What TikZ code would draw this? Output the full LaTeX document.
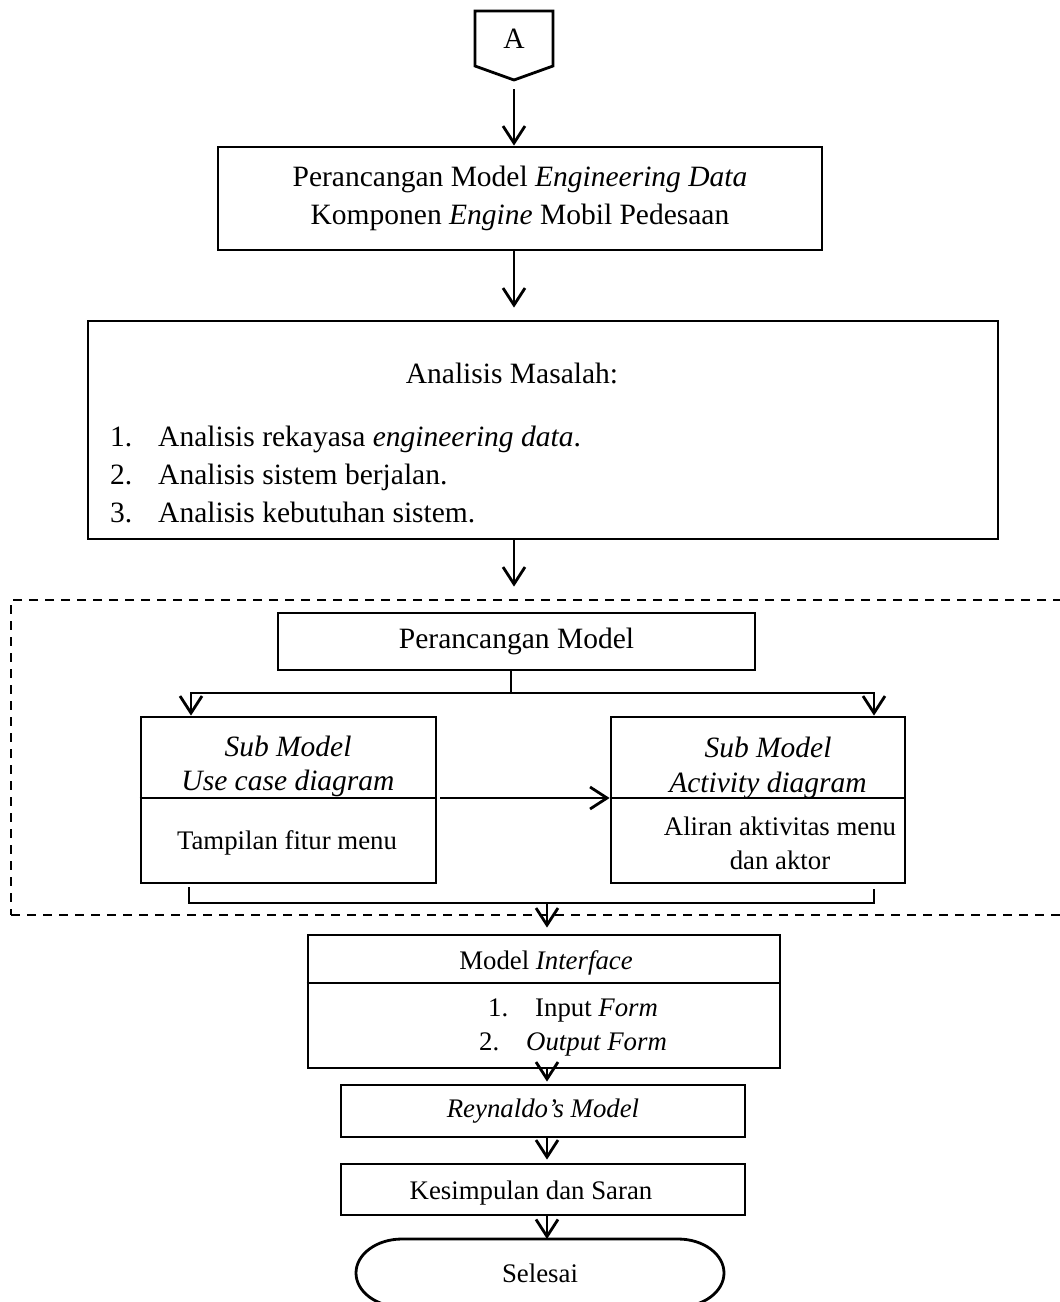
\documentclass[tikz,border=0pt]{standalone}
\usepackage{fontspec}
\setmainfont{Liberation Serif}
\usetikzlibrary{arrows.meta}
\newcommand\diagfont{\fontsize{29.5}{38}\selectfont}
\newcommand\diagsmall{\fontsize{26.8}{35}\selectfont}
\begin{document}
\begin{tikzpicture}[x=1pt,y=-1pt,
  lw/.style={line width=2.8pt},
  box/.style={draw, lw, inner sep=0pt, font=\diagfont, align=center},
  conn/.style={draw, lw},
  arr/.style={conn, -{Straight Barb[length=17pt,width=22pt]}},
  txt/.style={inner sep=0pt, font=\diagfont, anchor=base},
  txtw/.style={inner sep=0pt, font=\diagfont, anchor=base west},
  stxt/.style={txt, font=\diagsmall},
  stxtw/.style={txtw, font=\diagsmall},
  dashbox/.style={draw, lw, dash pattern=on 9pt off 7pt, inner sep=0pt}
]
\useasboundingbox (0,0) rectangle (1060,1302);
\clip (0,0) rectangle (1060,1302);

% dashed group
\node[dashbox, minimum width=1064pt, minimum height=315pt] (grp) at (543,757.5) {};

% off-page connector
\draw[lw, line join=miter] (475,11) -- (553,11) -- (553,66) -- (514,80) -- (475,66) -- cycle;
\node[txt] (A) at (514,48) {A};
\coordinate (Atip) at (514,80);

% box 1
\node[box, minimum width=604pt, minimum height=103pt] (b1) at (520,198.5)
  {Perancangan Model \textit{Engineering Data}\\Komponen \textit{Engine} Mobil Pedesaan};

% box 2
\node[box, minimum width=910pt, minimum height=218pt] (b2) at (543,430) {};
\node[txt] (t2) at (512,383) {Analisis Masalah:};
\node[txtw] (n1) at (110,446) {1.};
\node[txtw] (i1) at (158,446) {Analisis rekayasa \textit{engineering data}.};
\node[txtw] (n2) at (110,484) {2.};
\node[txtw] (i2) at (158,484) {Analisis sistem berjalan.};
\node[txtw] (n3) at (110,522) {3.};
\node[txtw] (i3) at (158,522) {Analisis kebutuhan sistem.};

% perancangan model
\node[box, minimum width=477pt, minimum height=57pt] (pm) at (516.5,641.5) {Perancangan Model};

% sub boxes
\node[box, minimum width=295pt, minimum height=166pt] (sl) at (288.5,800) {};
\node[box, minimum width=294pt, minimum height=166pt] (sr) at (758,800) {};
\coordinate (D) at (0,798);
\draw[lw] (sl.west |- D) -- (sl.east |- D);
\draw[lw] (sr.west |- D) -- (sr.east |- D);
\node[txt] (sl1) at (288,756) {\textit{Sub Model}};
\node[txt] (sl2) at (288,790) {\textit{Use case diagram}};
\node[stxt] (sl3) at (287,849) {Tampilan fitur menu};
\node[txt] (sr1) at (768,757) {\textit{Sub Model}};
\node[txt] (sr2) at (768,792) {\textit{Activity diagram}};
\node[stxt] (sr3) at (780,835) {Aliran aktivitas menu};
\node[stxt] (sr4) at (780,869) {dan aktor};

% model interface
\node[box, minimum width=472pt, minimum height=133pt] (mi) at (544,1001.5) {};
\draw[lw] (mi.west |- 0,983) -- (mi.east |- 0,983);
\node[stxt] (mi1) at (546,969) {Model \textit{Interface}};
\node[stxtw] (mn1) at (488,1016) {1.};
\node[stxtw] (mt1) at (535,1016) {Input \textit{Form}};
\node[stxtw] (mn2) at (479,1050) {2.};
\node[stxtw] (mt2) at (526,1050) {\textit{Output Form}};

% reynaldo, kesimpulan
\node[box, font=\diagsmall, minimum width=404pt, minimum height=52pt] (ry) at (543,1111) {\textit{Reynaldo’s Model}};
\node[box, minimum width=404pt, minimum height=51pt] (ks) at (543,1189.5) {};
\node[stxt] (kst) at (531,1199) {Kesimpulan dan Saran};

% selesai terminator
\draw[lw] (402,1239) -- (678,1239)
  .. controls (703.4,1239) and (724,1254.2) .. (724,1273)
  .. controls (724,1291.8) and (703.4,1307) .. (678,1307)
  -- (402,1307)
  .. controls (376.6,1307) and (356,1291.8) .. (356,1273)
  .. controls (356,1254.2) and (376.6,1239) .. (402,1239) -- cycle;
\node[stxt] (se) at (540,1282) {Selesai};
\coordinate (setop) at (547,1239);

% connectors
\draw[arr, shorten <=9pt] (Atip) -- (Atip |- b1.north);
\draw[arr, shorten >=12pt] (b1.south -| Atip) -- (Atip |- b2.north);
\draw[arr, shorten >=12pt] (b2.south -| Atip) -- (Atip |- grp.north);

\coordinate (J) at (511,693);
\coordinate (La) at (191,693);
\coordinate (Ra) at (874,693);
\draw[conn] (pm.south -| J) -- (J);
\draw[arr] (J) -- (La) -- (La |- sl.north);
\draw[arr] (J) -- (Ra) -- (Ra |- sr.north);
\draw[arr, shorten <=3pt] (sl.east |- D) -- (sr.west |- D);

\coordinate (ML) at (189,903);
\coordinate (MR) at (874,903);
\coordinate (MC) at (547,903);
\draw[conn, shorten <=3pt, shorten >=5pt] (sl.south -| ML) -- (ML) -- (MR) -- (sr.south -| MR);
\draw[arr, shorten >=6pt] (MC) -- (MC |- mi.north);
\draw[arr, shorten >=2pt] (mi.south -| MC) -- (MC |- ry.north);
\draw[arr, shorten >=3pt] (ry.south -| MC) -- (MC |- ks.north);
\draw[arr] (ks.south -| MC) -- (setop);
\end{tikzpicture}
\end{document}
